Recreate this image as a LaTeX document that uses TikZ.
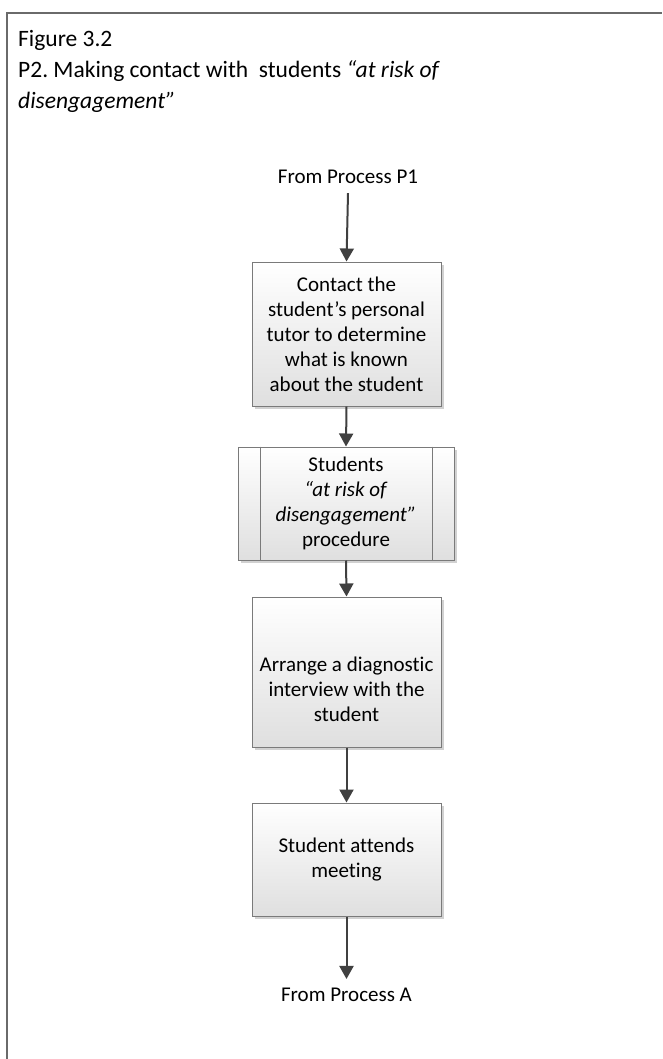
\documentclass[tikz,border=0pt]{standalone}
\usepackage{fontspec}
\setmainfont{Carlito}[Ligatures=NoCommon]
\usetikzlibrary{arrows.meta,shadows}
\frenchspacing
\definecolor{framegray}{HTML}{6A6A6A}
\definecolor{boxborder}{HTML}{7A7A7A}
\definecolor{arrowgray}{HTML}{404040}
\definecolor{boxbottom}{HTML}{DFDFDF}
\tikzset{
  procbox/.style={draw=boxborder, line width=1pt, top color=white, bottom color=boxbottom,
    drop shadow={shadow xshift=3pt, shadow yshift=-3pt, fill=black, opacity=0.18},
    align=center, font=\fontsize{21}{25}\selectfont, inner sep=0pt},
  boxtext/.style={align=center, font=\fontsize{21}{25}\selectfont, inner sep=0pt},
  flowarrow/.style={draw=arrowgray, line width=2pt, -{Triangle[length=13pt,width=14pt]}},
  plainlabel/.style={font=\fontsize{21}{25}\selectfont, inner sep=0pt},
}
\begin{document}
\begin{tikzpicture}[x=1pt,y=-1pt]
\useasboundingbox (0,0) rectangle (662,1059);
\fill[white] (0,0) rectangle (662,1059);
\draw[framegray, line width=1.5pt] (7,1059) -- (7,13) -- (662,13);
\node[anchor=north west, align=left, inner sep=0pt, font=\fontsize{23.5}{31}\selectfont] (title) at (18,30)
  {Figure 3.2\\P2. Making contact with\ \ students \textit{“at risk of}\\\textit{disengagement”}};
\node[plainlabel] (src) at (348,177) {From Process P1};
\node[procbox, minimum width=189pt, minimum height=144pt] (b1) at (346.5,334)
  {Contact the\\student’s personal\\tutor to determine\\what is known\\about the student};
\node[procbox, minimum width=216pt, minimum height=113pt] (b2) at (346,503.5)
  {Students\\\textit{“at risk of}\\\textit{disengagement”}\\procedure};
\draw[boxborder, line width=1pt] ([xshift=23pt]b2.north west) -- ([xshift=23pt]b2.south west)
  ([xshift=-22pt]b2.north east) -- ([xshift=-22pt]b2.south east);
\node[procbox, minimum width=189pt, minimum height=150pt] (b3) at (346.5,672) {};
\node[boxtext] (b3t) at (346.5,689) {Arrange a diagnostic\\interview with the\\student};
\node[procbox, minimum width=189pt, minimum height=113pt] (b4) at (346.5,859.5)
  {Student attends\\meeting};
\node[plainlabel] (dst) at (346.5,995) {From Process A};
\draw[flowarrow] ([yshift=-9pt]src.south) -- (b1.north);
\draw[flowarrow] (b1.south) -- (b2.north);
\draw[flowarrow] (b2.south) -- (b3.north);
\draw[flowarrow] (b3.south) -- (b4.north);
\draw[flowarrow] (b4.south) -- ([yshift=9pt]dst.north);
\end{tikzpicture}
\end{document}
